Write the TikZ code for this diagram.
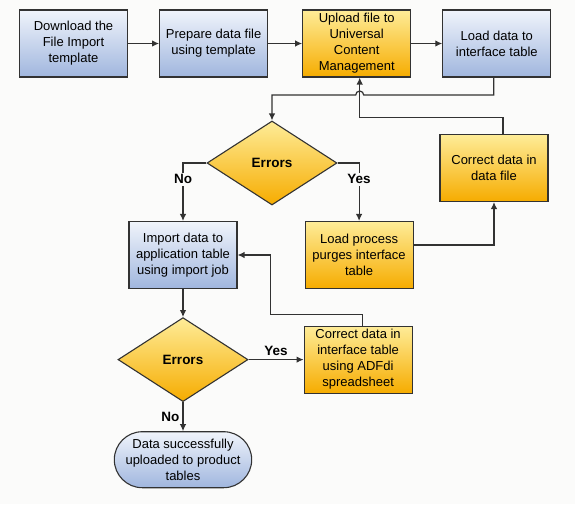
\documentclass[tikz,border=0pt]{standalone}
\usepackage{fontspec}
\setmainfont{Liberation Sans}
\usetikzlibrary{positioning, shapes.geometric, shapes.misc, arrows.meta}
\definecolor{bg}{RGB}{251,251,250}
\definecolor{darkline}{RGB}{50,50,50}
\definecolor{bluetop}{RGB}{240,244,251}
\definecolor{bluebot}{RGB}{160,182,222}
\definecolor{orgtop}{RGB}{254,236,152}
\definecolor{orgbot}{RGB}{246,172,0}
\tikzset{%
  block/.style    = {draw=darkline, line width=1.1pt, rectangle, minimum width=108pt,
    minimum height=67pt, inner sep=2pt, align=center, font=\fontsize{13}{16}\selectfont},
  bluebox/.style  = {block, top color=bluetop, bottom color=bluebot},
  orangebox/.style = {block, top color=orgtop, bottom color=orgbot},
  decision/.style = {draw=darkline, line width=1.1pt, diamond, minimum width=130pt,
    minimum height=84pt, inner sep=0pt, top color=orgtop, bottom color=orgbot,
    font=\fontsize{13.5}{16}\selectfont\bfseries},
  terminal/.style = {draw=darkline, line width=1.1pt, rounded rectangle, minimum width=131pt,
    minimum height=56pt, inner sep=2pt, align=center, top color=bluetop, bottom color=bluebot,
    font=\fontsize{13}{16}\selectfont},
  answer/.style   = {fill=bg, inner sep=2pt, font=\fontsize{13.5}{16}\selectfont\bfseries}
}
\tikzstyle{arrow} = [draw=darkline, line width=1.2pt, -{Latex[length=7pt,width=6.5pt]}]

\begin{document}
\begin{tikzpicture}[x=1pt, y=-1pt]

\fill [bg] (0,0) rectangle (575,504);
\useasboundingbox (0,0) rectangle (575,504);

\draw
  node [bluebox] (download) at (73.5,43.5) {Download the\\File Import\\template}
  node [bluebox, right=31pt of download] (prepare) {Prepare data file\\using template}
  node [orangebox, right=34pt of prepare] (upload) {Upload file to\\Universal\\Content\\Management}
  node [bluebox, right=31pt of upload] (load) {Load data to\\interface table}
;

  \node [decision] (errors1) at (272,163) {Errors};
  \node [bluebox] (import) at (183,255) {Import data to\\application table\\using import job};
  \node [orangebox, right=67pt of import] (purge) {Load process\\purges interface\\table};
  \node [orangebox] (fixfile) at (494,168) {Correct data in\\data file};

  \node [decision, below=28pt of import] (errors2) {Errors};
  \node [orangebox, right=55pt of errors2] (fixtable) {Correct data in\\interface table\\using ADFdi\\spreadsheet};
  \node [terminal, below=29pt of errors2] (done) {Data successfully\\uploaded to product\\tables};

  \coordinate (hop) at ([xshift=3pt]upload.south |- 0,95);

  \draw [arrow] (download.east) -- (prepare.west);
  \draw [arrow] (prepare.east) -- (upload.west);
  \draw [arrow] (upload.east) -- (load.west);
  \draw [arrow] ([xshift=-3pt]load.south) |- ([xshift=4pt]hop)
    arc [start angle=0, end angle=-180, radius=4] -| (errors1.north);
  \draw [arrow] ([xshift=9pt]fixfile.north) |- ([xshift=3pt,yshift=-40pt]upload.south)
    -- ([xshift=3pt]upload.south);

  \draw [arrow] (errors1.west) -| (import.north) node [answer, pos=0.64] {No};
  \draw [arrow] (errors1.east) -| (purge.north) node [answer, pos=0.64] {Yes};
  \draw [arrow] ([yshift=10pt]purge.east) -| (fixfile.south);

  \draw [arrow] (import.south) -- (errors2.north);
  \draw [arrow] (errors2.east) -- (fixtable.west) node [answer, midway, above=1pt] {Yes};
  \draw [arrow] ([xshift=4pt]fixtable.north) -- ++(0,-11) -| ([xshift=33pt]import.east)
    -- (import.east);
  \draw [arrow] (errors2.south) -- (done.north) node [answer, midway, left=1pt] {No};

\end{tikzpicture}
\end{document}
